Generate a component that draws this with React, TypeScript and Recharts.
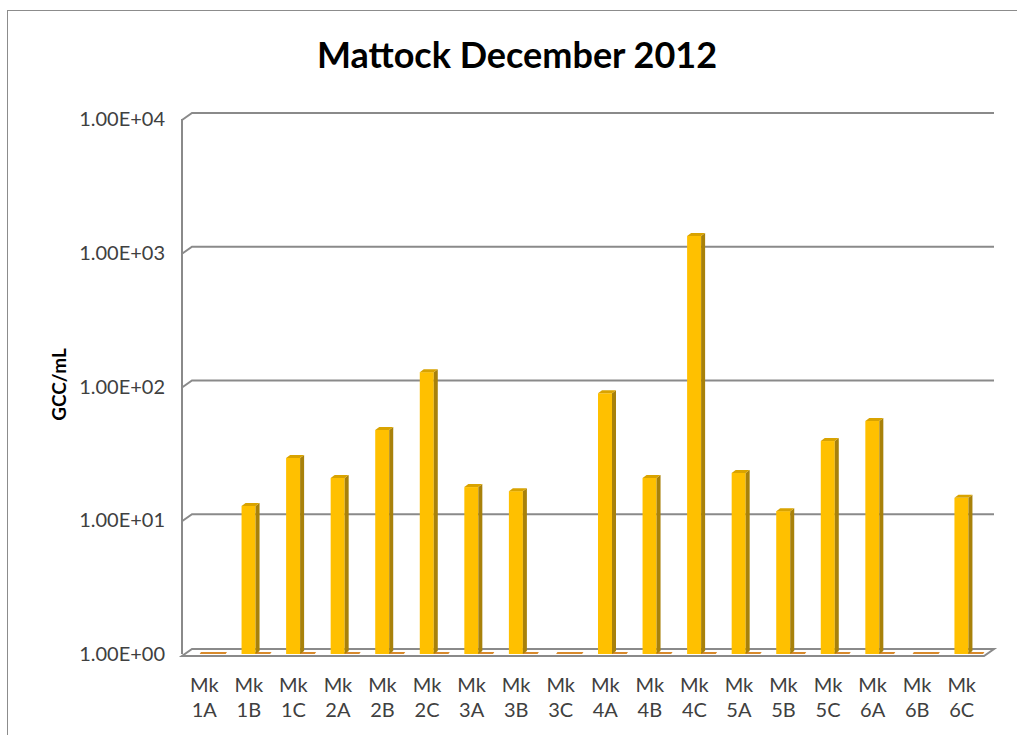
import { BarChart, Bar, XAxis, YAxis, CartesianGrid } from 'recharts';

const sites = ['1A', '1B', '1C', '2A', '2B', '2C', '3A', '3B', '3C', '4A', '4B', '4C', '5A', '5B', '5C', '6A', '6B', '6C'];
// GCC/mL; 1 means nothing above the 1.00E+00 floor
const gcc = [1, 12.8, 29.2, 20.7, 47.3, 128, 17.7, 16.5, 1, 89, 20.7, 1334, 22.6, 11.7, 39.1, 55.2, 1, 14.7];
const yTicks = [1, 10, 100, 1000, 10000];

const data = sites.map((s, i) => ({ site: s, gcc: gcc[i] }));

const FONT = 'Lato, "Noto Sans", sans-serif';
const GRID = '#8a8a8a';
const DX = 10;
const DY = 7;

const fmtSci = (v: number) => {
  const e = Math.round(Math.log10(v));
  const m = v / Math.pow(10, e);
  return `${m.toFixed(2)}E${e < 0 ? '-' : '+'}${String(Math.abs(e)).padStart(2, '0')}`;
};

function BarShape(props: any) {
  const { x, y, width, height } = props;
  const base = y + height;
  const side = 4;
  const cap = 3;
  return (
    <g>
      <polygon
        points={`${x + 2},${base + 1} ${x + width + 14},${base + 1} ${x + width + 16},${base - 2} ${x + 4},${base - 2}`}
        fill="#d88a2c"
      />
      {height > 0.5 && (
        <>
          <rect x={x} y={y} width={width} height={height} fill="#ffc000" />
          <polygon
            points={`${x + width},${y} ${x + width + side},${y - cap} ${x + width + side},${base - cap} ${x + width},${base}`}
            fill="#a8810a"
          />
          <polygon
            points={`${x},${y} ${x + side},${y - cap} ${x + width + side},${y - cap} ${x + width},${y}`}
            fill="#d9a300"
          />
        </>
      )}
    </g>
  );
}

function GridLine(props: any) {
  const { x1, y1, x2 } = props;
  const bottom = props.y != null && props.height != null ? props.y + props.height : 654;
  const isFloor = Math.abs(y1 - bottom) < 2;
  if (isFloor) {
    return (
      <g>
        <polygon
          points={`${x1},${y1 + 2} ${x2},${y1 + 2} ${x2 + DX},${y1 - DY + 2} ${x1 + DX},${y1 - DY + 2}`}
          fill="#ffffff"
          stroke={GRID}
          strokeWidth={2}
        />
      </g>
    );
  }
  return (
    <g>
      <polyline
        points={`${x1},${y1 + 1} ${x1 + DX},${y1 - DY + 1} ${x2 + DX},${y1 - DY + 1}`}
        fill="none"
        stroke={GRID}
        strokeWidth={2}
      />
    </g>
  );
}

function SiteTick(props: any) {
  const { x, y, payload } = props;
  return (
    <text x={x} y={y} textAnchor="middle" fill="#404040" fontFamily={FONT} fontSize={20}>
      <tspan x={x} dy={30}>Mk</tspan>
      <tspan x={x} dy={25}>{payload.value}</tspan>
    </text>
  );
}

function YLabel(props: any) {
  const vb = props.viewBox || { x: 47, y: 119, height: 535 };
  const cx = vb.x + 11;
  const cy = vb.y + vb.height / 2 - 2;
  return (
    <text
      x={cx}
      y={cy}
      transform={`rotate(-90, ${cx}, ${cy})`}
      textAnchor="middle"
      dominantBaseline="central"
      fontFamily={FONT}
      fontWeight="bold"
      fontSize={19}
      fill="#000"
    >
      GCC/mL
    </text>
  );
}

export default function App() {
  return (
    <div style={{ position: 'absolute', left: 0, top: 0, width: 1017, height: 735, background: '#fff' }}>
      <div
        style={{
          position: 'absolute',
          left: 7,
          top: 10,
          width: 1100,
          height: 800,
          borderLeft: '1.5px solid #8c8c8c',
          borderTop: '1.5px solid #8c8c8c',
        }}
      />
      <div
        style={{
          position: 'absolute',
          left: 0,
          width: 1034,
          top: 32,
          textAlign: 'center',
          fontFamily: FONT,
          fontWeight: 'bold',
          fontSize: 36,
          color: '#000',
        }}
      >
        Mattock December 2012
      </div>
      <div style={{ position: 'absolute', left: 0, top: 0 }}>
        <BarChart width={1017} height={735} data={data} margin={{ top: 119, right: 33, left: 47, bottom: 21 }} barCategoryGap={0}>
          <CartesianGrid vertical={false} horizontal={(p: any) => <GridLine key={p.key} {...p} />} />
          <XAxis dataKey="site" axisLine={false} tickLine={false} tick={<SiteTick />} height={60} interval={0} />
          <YAxis
            scale="log"
            domain={[1, 10000]}
            ticks={yTicks}
            allowDataOverflow
            width={135}
            tickFormatter={fmtSci}
            axisLine={{ stroke: GRID, strokeWidth: 2 }}
            tickLine={false}
            tickSize={0}
            tickMargin={17}
            tick={{ fontSize: 20, fill: '#404040', fontFamily: FONT }}
            label={<YLabel />}
          />
          <Bar dataKey="gcc" barSize={14} shape={<BarShape />} isAnimationActive={false} />
        </BarChart>
      </div>
    </div>
  );
}
